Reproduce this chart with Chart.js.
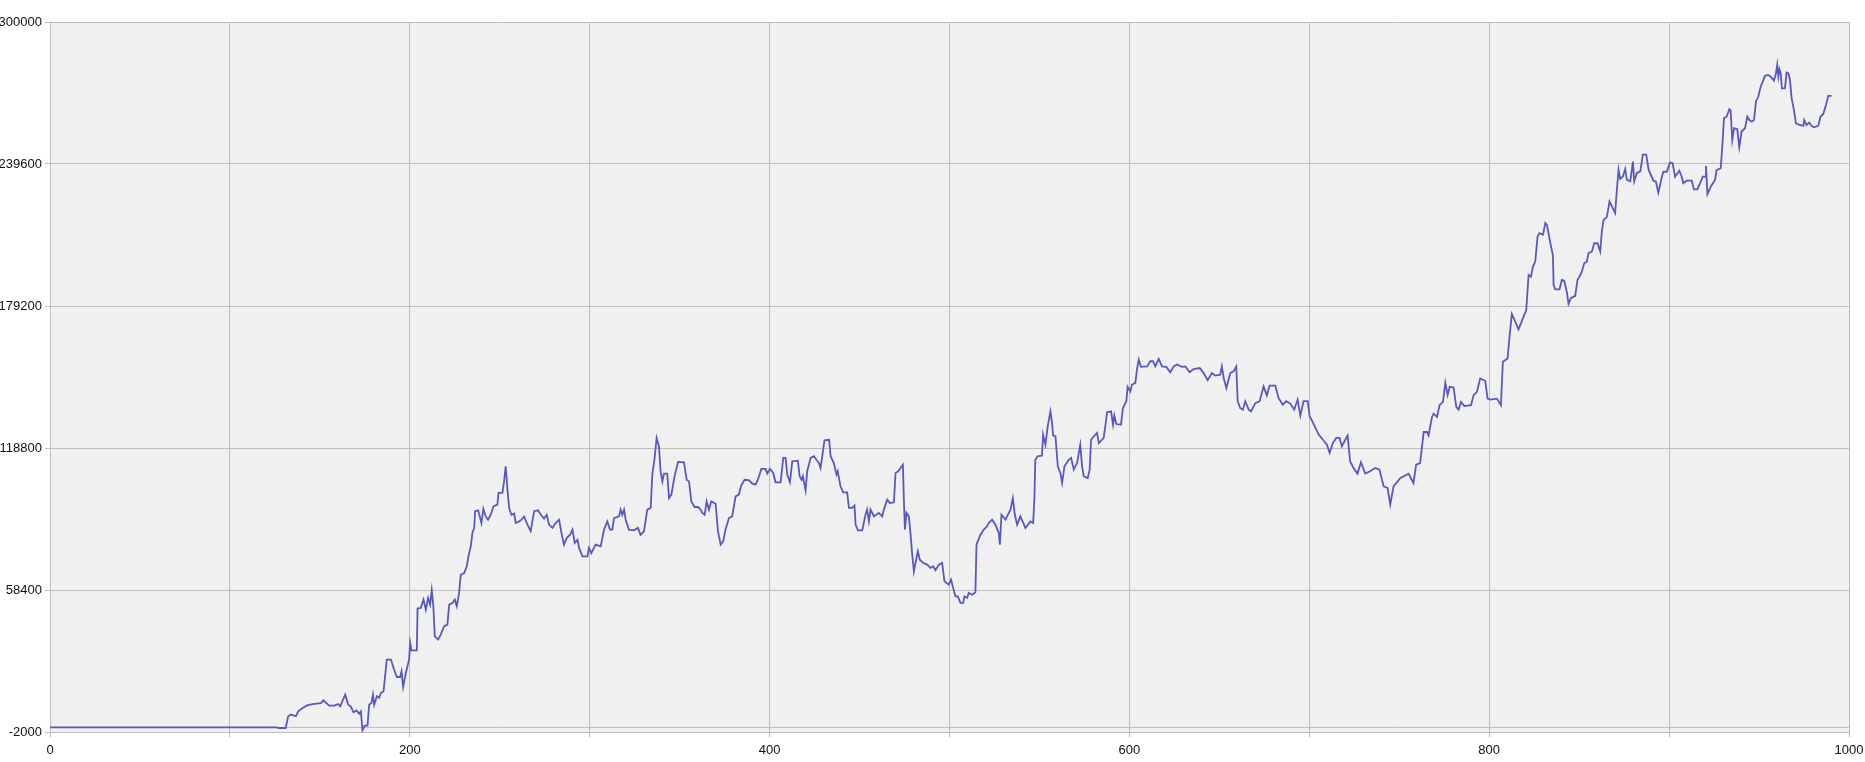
<!DOCTYPE html>
<html>
<head>
<meta charset="utf-8">
<title>Equity</title>
<style>
    html, body { margin: 0; padding: 0; background: #ffffff; }
    #wrap { width: 1865px; height: 762px; }
</style>
<script src="https://cdn.jsdelivr.net/npm/chart.js@4/dist/chart.umd.min.js"></script>
</head>
<body>
<div id="wrap"><canvas id="chartEquity" width="1865" height="762"></canvas></div>
<script>
/**
 * Trade number (x)
 */
const steps = [
    0, 126, 127, 131, 132.4, 133.9, 136.7, 138, 140.4, 143.2, 146.9, 150.6, 152, 155.2, 158, 160.2, 161.3, 164.1, 165.8, 167.2,
    168.7, 170.4, 171.9, 172.8, 173.7, 175, 176.5, 177.4, 178.7, 179.5, 180.2, 181.7, 183, 183.9, 185.4, 187.2, 189.5, 191.3, 192.8, 194.6,
    195.4, 196.3, 197.8, 199.6, 200.2, 200.9, 203.9, 204.3, 206.1, 207.6, 208.9, 210.2, 211.3, 212.2, 213.1, 213.9, 215.7, 217.2, 219.1, 220.9,
    221.9, 223.7, 225, 226.1, 227.4, 228.3, 230.2, 231.7, 232.6, 233.9, 234.8, 235.8, 236.3, 238, 239.8, 240.9, 242.2, 243.5, 245, 246.5,
    248.7, 249.3, 251.5, 252.4, 253.3, 254.3, 255.2, 256.5, 258, 258.9, 260.8, 262.1, 263.5, 265.4, 267.2, 269.1, 271.3, 272.8, 274.6, 276.1,
    277.4, 279.3, 281.1, 283, 284.3, 285.7, 287.2, 289.1, 290.4, 291.7, 293.2, 294.1, 296, 298.7, 299.6, 300.9, 303.3, 306.1, 308, 309.8,
    311.3, 312.6, 313.5, 316.3, 317.2, 318.1, 319.1, 320, 321.8, 324.6, 326.8, 328.3, 330.2, 332, 333.9, 334.8, 336.1, 337.2, 338.5, 339.4,
    340.4, 341.3, 343.1, 344.1, 345.4, 347.2, 349.1, 352.4, 353.9, 355.2, 356.5, 358.3, 360.2, 361.3, 362.6, 363.9, 365, 366.3, 367.6, 370,
    371.3, 372.8, 374.2, 375.5, 377.4, 379.2, 381.1, 382.9, 384.2, 386.1, 388.5, 390.4, 392.2, 393.5, 395.4, 397.8, 398.7, 400.2, 402, 403.3,
    406.1, 407.6, 408.9, 409.8, 411.3, 412.6, 415.7, 416.7, 417.8, 418.5, 420, 420.9, 422.8, 424.6, 427.4, 428.3, 429.8, 430.5, 433.1, 433.9,
    435.7, 437.2, 437.9, 439.4, 440.9, 443.1, 444.1, 445.9, 447.2, 447.8, 449.1, 451.5, 453.3, 454.2, 455.2, 456.1, 458, 460.7, 462.6, 463.5,
    465.4, 466.8, 469.1, 470, 471.5, 472.8, 474.1, 474.6, 475.2, 476.1, 477.4, 478.3, 479.2, 480.2, 481.1, 482.4, 483.5, 485.4, 487.6, 489.4,
    490.9, 492.2, 494.1, 495.9, 497.2, 499.6, 500.9, 502, 503.3, 504.6, 506.1, 507.6, 508.3, 509.8, 510.7, 512.6, 514.4, 515, 517.2, 519.1,
    520.9, 521.8, 523.7, 525.5, 527.4, 528, 528.9, 531.1, 533.9, 535.2, 536.3, 537.6, 539.4, 542.2, 545, 546.5, 547.2, 547.7, 549, 551.4,
    552, 553.3, 554.6, 556.1, 557, 557.6, 558.9, 560.2, 561.6, 562.6, 563.9, 566.3, 567.6, 569.1, 570.9, 572.7, 573.7, 574.6, 576.8, 577.9,
    578.7, 580.2, 582, 583, 585.7, 586.6, 587.6, 589.8, 590.9, 591.6, 592.7, 595.3, 596.4, 598.3, 599, 600.5, 601.4, 603.3, 604.2, 605.2,
    606.5, 609.8, 611.6, 613.1, 614.4, 616.3, 618.1, 620.5, 622.7, 624.6, 626.4, 629.2, 631.1, 633.5, 635.7, 639.1, 641.3, 643.5, 645.9, 647.7,
    650.5, 651.4, 652.4, 653.9, 656.1, 657.9, 659.4, 660.2, 661.6, 663.1, 664.4, 666.3, 667.6, 670, 672.4, 674.6, 676.4, 677.9, 681.1, 682.9,
    685.3, 687.2, 689.4, 691.6, 693.5, 695, 696.8, 699.1, 700.2, 702, 703.9, 705.2, 707.6, 709.8, 711.3, 713.1, 715, 716.8, 718.1, 720,
    721.3, 722.7, 724.6, 726.8, 728.7, 731.1, 733.8, 736.6, 739, 741.3, 743.5, 745, 746.8, 750.5, 755.2, 757.9, 759.4, 761.6, 763.6, 765.4,
    766.3, 768.2, 769.1, 771, 772.4, 774.3, 775.6, 776.9, 778, 780.2, 781.7, 783, 784.3, 786.2, 789.9, 791.3, 793.2, 795, 797.8, 799.1,
    800.6, 804.3, 806.5, 807.6, 810.2, 811.3, 812.6, 814.5, 816.3, 819.1, 820.6, 821.9, 823.2, 824.3, 825.6, 826.9, 828, 829.9, 831.2, 832.1,
    834, 835.4, 835.8, 836.7, 839.1, 840.4, 841.7, 843.2, 844.1, 845.4, 847.8, 849.1, 850.2, 851.5, 852.8, 854.3, 855.2, 857.1, 858.4, 860.2,
    861.7, 862.6, 863.6, 865.4, 866.9, 868.7, 870, 870.9, 871.9, 872.8, 874.3, 875.6, 876.5, 878.4, 879.9, 880.6, 882.1, 884, 885.4, 887.3,
    888.6, 891.3, 892.7, 894, 895.9, 896.8, 898.7, 900.5, 902, 903.3, 905.7, 907, 907.9, 909.8, 912.6, 913.8, 915.7, 917.2, 918.7, 920,
    920.5, 921.3, 923.1, 925.5, 926.4, 928.7, 929.8, 930.5, 932, 933.5, 934.2, 935.1, 936.1, 937.9, 939, 940.3, 942.2, 943.5, 944.6, 945.9,
    947.2, 948.3, 949.6, 950.9, 953.3, 955.1, 956.4, 958.3, 959.4, 960.1, 960.7, 961.3, 962, 962.7, 964.4, 965.3, 966.3, 967.2, 968.1, 969.4,
    970.5, 972.7, 974.6, 975.1, 976.4, 977.9, 979.2, 980.5, 982.9, 984.2, 985.7, 987.2, 988.5, 990.3
];

/**
 * Equity (y)
 */
const equity = [
    0, 0, -300, -300, 4700, 5400, 4700, 6800, 8200, 9400, 10000, 10300, 11500, 9200, 9200, 9900, 8900, 13900, 9600, 8900,
    6400, 7200, 5800, 6800, -1300, 700, 700, 9600, 10300, 13900, 9600, 13200, 12500, 14600, 15300, 28800, 28800, 24500, 21400, 21400,
    23800, 17100, 23100, 28800, 35900, 32700, 32700, 50500, 50800, 54300, 50000, 55000, 52200, 58300, 51500, 38700, 37300, 39400, 43000, 43700,
    52200, 52900, 54300, 51500, 57100, 64900, 65600, 68500, 72700, 77000, 82700, 84800, 91900, 92300, 86900, 92900, 89700, 88300, 90400, 94000,
    94700, 99700, 99700, 104600, 111000, 101100, 93300, 90400, 90900, 86900, 87600, 88300, 89700, 86200, 83400, 91900, 92300, 90400, 88800, 90400,
    86200, 84800, 86900, 88300, 82700, 77700, 80500, 81900, 84100, 78400, 79800, 76300, 72700, 72700, 76300, 74100, 77700, 77000, 84100, 87600,
    84100, 84100, 89000, 89700, 92600, 90400, 92600, 88300, 84100, 83800, 84800, 81900, 83400, 92600, 93300, 107500, 114600, 123100, 119500, 108900,
    104600, 107900, 107900, 97500, 99000, 106800, 112900, 112700, 105300, 104600, 96100, 93700, 93700, 92900, 91200, 90400, 96100, 92600, 96100, 95100,
    83400, 77700, 79100, 84100, 89000, 89700, 98200, 99000, 102800, 105300, 105100, 103600, 103200, 105300, 109900, 109900, 107900, 109900, 108200, 104200,
    104200, 114600, 114600, 107500, 104200, 113100, 113400, 106800, 105300, 106800, 100800, 108900, 114600, 115300, 112400, 110300, 118100, 122100, 122300, 115300,
    112400, 107500, 108900, 102500, 99900, 99900, 93300, 93300, 94300, 86200, 83800, 83800, 90400, 92600, 87600, 92600, 89700, 91200, 89700, 92600,
    96800, 95400, 95700, 108200, 108900, 110300, 111700, 97500, 84100, 91200, 89700, 82600, 74100, 66300, 69900, 74900, 71300, 69900, 69200, 67800,
    68500, 66800, 69200, 69900, 62100, 60700, 62800, 59300, 55700, 55700, 52900, 52900, 55700, 55000, 57100, 56400, 57400, 77700, 81900, 84100,
    85500, 86900, 88300, 86200, 82600, 77700, 90400, 88300, 92600, 97500, 90400, 86200, 89700, 84800, 87600, 86900, 97500, 113800, 115300, 115500,
    124500, 120200, 128000, 134400, 129400, 124100, 123800, 111000, 108200, 103900, 111000, 113800, 114600, 109600, 112400, 120200, 111000, 106800, 106000, 109600,
    122300, 123800, 125200, 120900, 123100, 128000, 134000, 134400, 128700, 132600, 129000, 128700, 135800, 138700, 144800, 142900, 145700, 146500, 152100, 156400,
    153300, 153500, 155700, 155700, 153500, 156700, 153500, 153300, 151000, 153500, 154300, 153300, 153500, 151000, 152400, 152800, 150700, 147600, 150700, 149600,
    150000, 153500, 148600, 144300, 150700, 151400, 153500, 138700, 135800, 135100, 138700, 135100, 134400, 137900, 138700, 145000, 141100, 145300, 145300, 140100,
    137200, 138700, 137700, 135100, 139400, 132600, 138700, 138700, 132300, 129700, 126600, 124500, 122300, 120200, 116700, 120900, 123100, 123100, 119500, 122300,
    124100, 113100, 110300, 107900, 112700, 107900, 108900, 110300, 109600, 102500, 101800, 94700, 102500, 106000, 107900, 103900, 111700, 112400, 125600, 125600,
    124200, 132000, 133400, 132000, 137000, 138400, 146500, 141300, 144800, 144500, 136300, 135100, 138400, 136600, 137000, 141300, 142700, 148400, 147400, 139800,
    139400, 139800, 137000, 155500, 156900, 166100, 175800, 172500, 169300, 174700, 177500, 192400, 191700, 196000, 198100, 208800, 210200, 209500, 214500, 213700,
    205900, 200900, 188200, 186300, 186300, 190300, 190000, 185000, 180100, 182500, 183500, 190300, 191700, 193800, 197400, 198100, 201700, 202400, 205900, 205900,
    202400, 210900, 215900, 217000, 223700, 220800, 218700, 228000, 237200, 233200, 234300, 237500, 232900, 232200, 240600, 232200, 235800, 236500, 243600, 243600,
    237200, 232500, 232100, 227400, 233900, 236300, 236300, 240200, 239900, 234200, 236800, 234200, 231400, 232500, 232500, 228800, 228800, 231400, 234200, 234200,
    238800, 226800, 229900, 232800, 237000, 237800, 249800, 259100, 259800, 262900, 262300, 249800, 254800, 254400, 246700, 253400, 254800, 259800, 258300, 257600,
    258300, 266200, 268300, 272500, 277100, 277500, 276800, 275100, 278200, 281800, 276800, 279900, 278200, 271800, 271800, 278500, 278200, 275400, 267600, 262600,
    256900, 256200, 255800, 258300, 256200, 257200, 255800, 255200, 255800, 259800, 260900, 264700, 268600, 268600
];

/**
 * Ticks
 */
const xGrid = [0, 100, 200, 300, 400, 500, 600, 700, 800, 900, 1000];
const xLabels = [0, 200, 400, 600, 800, 1000];
const yTicks = [-2000, 58400, 118800, 179200, 239600, 300000];

/**
 * Plot background
 */
const plotBackground = {
    id: 'plotBackground',
    beforeDraw: function (chart) {
        const ctx = chart.ctx;
        const a = chart.chartArea;
        ctx.save();
        ctx.fillStyle = '#f0f0f0';
        ctx.fillRect(a.left, a.top, a.right - a.left, a.bottom - a.top);
        ctx.restore();
    }
};

/**
 * Zero line
 */
const zeroLine = {
    id: 'zeroLine',
    beforeDatasetsDraw: function (chart) {
        const ctx = chart.ctx;
        const a = chart.chartArea;
        const y = Math.round(chart.scales.y.getPixelForValue(0)) + 0.5;
        ctx.save();
        ctx.strokeStyle = '#bdbdbd';
        ctx.lineWidth = 1;
        ctx.beginPath();
        ctx.moveTo(a.left, y);
        ctx.lineTo(a.right, y);
        ctx.stroke();
        ctx.restore();
    }
};

const gridColor = '#bdbdbd';
const tickFont = { family: '"Liberation Sans", Arial, sans-serif', size: 13 };

/**
 * Chart
 */
new Chart(document.getElementById('chartEquity'), {
    /**
     * Type
     */
    type: 'line',

    /**
     * Data
     */
    data: {
        datasets: [
            {
                label: 'Equity',
                data: steps.map(function (s, i) { return { x: s, y: equity[i] }; }),
                borderColor: '#5858c4',
                borderWidth: 1.8,
                pointRadius: 0,
                tension: 0,
                fill: false
            }
        ]
    },

    /**
     * Plugins
     */
    plugins: [plotBackground, zeroLine],

    /**
     * Options
     */
    options: {
        responsive: false,
        animation: false,
        devicePixelRatio: 1,
        layout: { padding: { left: 0, right: 16, top: 22, bottom: 0 } },
        plugins: {
            legend: { display: false },
            tooltip: { enabled: false }
        },
        scales: {
            x: {
                type: 'linear',
                min: 0,
                max: 1000,
                afterBuildTicks: function (scale) {
                    scale.ticks = xGrid.map(function (v) { return { value: v }; });
                },
                afterFit: function (scale) {
                    scale.height = 30;
                    scale.paddingLeft = 0;
                    scale.paddingRight = 0;
                },
                grid: { color: gridColor, tickLength: 5, lineWidth: 1 },
                border: { display: true, color: gridColor },
                ticks: {
                    autoSkip: false,
                    maxRotation: 0,
                    padding: 6,
                    color: '#111111',
                    font: tickFont,
                    callback: function (v) { return xLabels.indexOf(v) >= 0 ? String(v) : ''; }
                }
            },
            y: {
                type: 'linear',
                min: -2000,
                max: 300000,
                afterBuildTicks: function (scale) {
                    scale.ticks = yTicks.map(function (v) { return { value: v }; });
                },
                afterFit: function (scale) {
                    scale.width = 50;
                    scale.paddingTop = 0;
                    scale.paddingBottom = 0;
                },
                grid: { color: gridColor, tickLength: 5, lineWidth: 1 },
                border: { display: true, color: gridColor },
                ticks: {
                    autoSkip: false,
                    padding: 3,
                    color: '#111111',
                    font: tickFont,
                    callback: function (v) { return String(v); }
                }
            }
        }
    }
});
</script>
</body>
</html>
